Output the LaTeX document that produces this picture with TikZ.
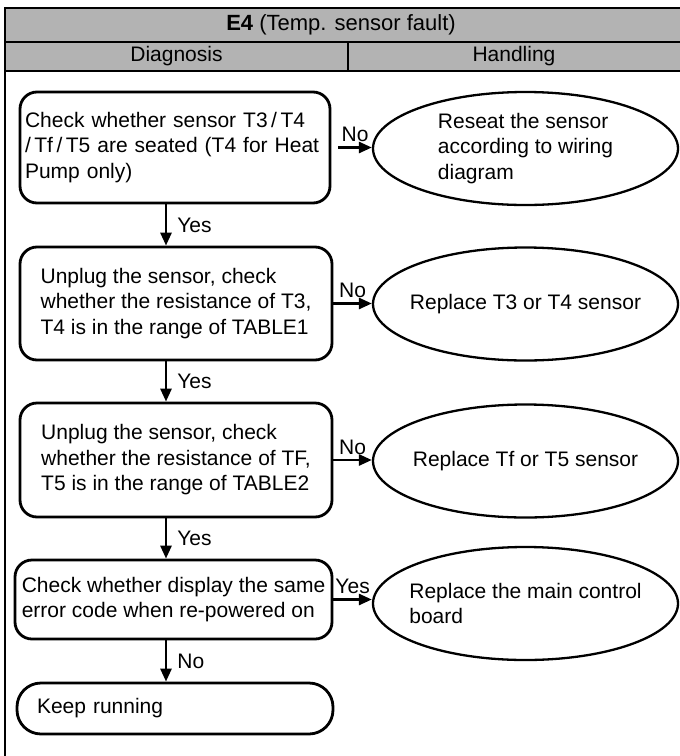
\documentclass[tikz,border=0pt]{standalone}
\usepackage{fontspec}
\setmainfont{Liberation Sans}
\usepackage{tikz}
\usetikzlibrary{shapes.geometric,arrows.meta}
\definecolor{hdgray}{RGB}{179,179,179}

\begin{document}
\begin{tikzpicture}[x=1pt,y=-1pt,
  every node/.style={font=\fontsize{21}{25.5}\selectfont},
  chk/.style={draw,line width=2.8pt,rounded corners=17pt,inner sep=0pt,align=left},
  fix/.style={draw,ellipse,line width=2.3pt,minimum width=305pt,minimum height=113pt,
    inner xsep=-15pt,inner ysep=0pt,align=left},
  flow/.style={line width=2.7pt,-{Triangle[length=13pt,width=11pt]}},
  lbl/.style={inner sep=4pt},
  rule/.style={line width=2.5pt}]
\useasboundingbox (0,0) rectangle (680,756);
\fill[hdgray] (5,8) rectangle (680,71);
\draw[rule] (680,8) -- (5,8) -- (5,756);
\draw[rule] (5,42) -- (680,42);
\draw[rule] (5,71) -- (680,71);
\draw[rule] (348,42) -- (348,71);
\node (ttl) at (341,25) {\fontsize{22}{26}\selectfont\textbf{E4} (Temp. sensor fault)};
\node (dia) at (176.5,56.5) {Diagnosis};
\node (han) at (514,56.5) {Handling};

\node[chk,minimum width=310pt,minimum height=111pt,text width=300pt] (c1) at (175,147.5)
  {Check whether sensor T3\,/\,T4\\/\,Tf\,/\,T5 are seated (T4 for Heat\\Pump only)};
\node[chk,minimum width=312pt,minimum height=113pt] (c2) at (176,303.5)
  {Unplug the sensor, check\\whether the resistance of T3,\\T4 is in the range of TABLE1};
\node[chk,minimum width=312pt,minimum height=114pt] (c3) at (176,460)
  {Unplug the sensor, check\\whether the resistance of TF,\\T5 is in the range of TABLE2};
\node[chk,minimum width=317pt,minimum height=79pt] (c4) at (173.5,599.5)
  {Check whether display the same\\error code when re-powered on};
\node[chk,rounded corners=24pt,minimum width=316pt,minimum height=51pt,text width=276pt] (c5) at (175,708.5)
  {Keep running};

\node[fix] (e1) at (525.5,148.5) {Reseat the sensor\\according to wiring\\diagram};
\node[fix] (e2) at (525.5,304) {Replace T3 or T4 sensor};
\node[fix] (e3) at (525.5,461) {Replace Tf or T5 sensor};
\node[fix] (e4) at (525.5,603.5) {Replace the main control\\board};

\coordinate (ax) at (166,0);
\draw[flow] (c1.south -| ax) -- node[lbl,right=6pt] {Yes} (c2.north -| ax);
\draw[flow] (c2.south -| ax) -- node[lbl,right=6pt] {Yes} (c3.north -| ax);
\draw[flow] (c3.south -| ax) -- node[lbl,right=6pt] {Yes} (c4.north -| ax);
\draw[flow] (c4.south -| ax) -- node[lbl,right=6pt] {No} (c5.north -| ax);

\draw[flow] ([xshift=7pt]c1.east) -- node[lbl,above] {No} (c1.east -| e1.west);
\draw[flow] (c2.east) -- node[lbl,above] {No} (c2.east -| e2.west);
\draw[flow] (c3.east) -- node[lbl,above] {No} (c3.east -| e3.west);
\draw[flow] (c4.east) -- node[lbl,above] {Yes} (c4.east -| e4.west);
\end{tikzpicture}
\end{document}
